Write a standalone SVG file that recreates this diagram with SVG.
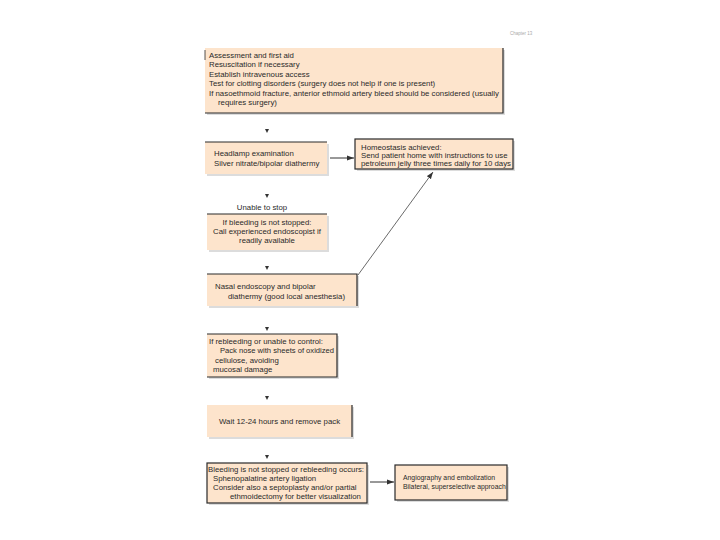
<svg xmlns="http://www.w3.org/2000/svg" width="720" height="540" viewBox="0 0 720 540">
<defs>
<style>
.bx{fill:#fde4cc}
.sh{fill:#dcdcdc}
.bd{stroke:#2a2a2a;stroke-width:1.2;fill:none}
text{font-family:"Liberation Sans",Arial,sans-serif;font-size:7.8px;fill:#2a2a2a}
.sm{font-size:6.85px}
.ah{fill:#333}
.ln{stroke:#333;stroke-width:1;fill:none}
.dl{stroke:#444;stroke-width:0.8;fill:none}
</style>
<marker id="arr" markerWidth="8" markerHeight="6" refX="7" refY="3" orient="auto" markerUnits="userSpaceOnUse">
<path d="M0,0.5 L7,3 L0,5.5 z" fill="#333"/>
</marker>
</defs>
<rect width="720" height="540" fill="#fff"/>
<text x="510" y="35" style="font-size:4.5px;fill:#aaa">Chapter 13</text>

<g id="n1">
<rect class="sh" x="207" y="50" width="298" height="65"/>
<rect class="bx" x="205" y="48" width="298" height="65"/>
<path class="bd" d="M503,48 V113 H205"/>
<path class="bd" d="M205,50 V60" style="stroke-width:0.8"/>
<text x="209" y="57.5">Assessment and first aid</text>
<text x="209" y="67">Resuscitation if necessary</text>
<text x="209" y="76.5">Establish intravenous access</text>
<text x="209" y="86">Test for clotting disorders (surgery does not help if one is present)</text>
<text x="209" y="95.5" textLength="290" lengthAdjust="spacingAndGlyphs">If nasoethmoid fracture, anterior ethmoid artery bleed should be considered (usually</text>
<text x="218" y="105">requires surgery)</text>
</g>

<g id="n2">
<rect class="sh" x="207" y="144" width="122" height="32"/>
<rect class="bx" x="205" y="142" width="122" height="32"/>
<path class="bd" d="M205,142 H327"/>
<text x="214" y="156">Headlamp examination</text>
<text x="214" y="165.5">Silver nitrate/bipolar diathermy</text>
</g>

<g id="n3">
<rect class="sh" x="357" y="141" width="158" height="30"/>
<rect class="bx" x="355" y="139" width="158" height="30"/>
<rect class="bd" x="355" y="139" width="158" height="30"/>
<text x="361" y="149.5">Homeostasis achieved:</text>
<text x="361" y="157.5">Send patient home with instructions to use</text>
<text x="361" y="166">petroleum jelly three times daily for 10 days</text>
</g>

<g id="n4">
<text x="262" y="210" text-anchor="middle">Unable to stop</text>
<rect class="sh" x="209" y="216" width="120" height="36"/>
<rect class="bx" x="207" y="214" width="120" height="36"/>
<path class="bd" d="M207,214 H327"/>
<text x="267" y="224.5" text-anchor="middle">If bleeding is not stopped:</text>
<text x="267" y="233.5" text-anchor="middle">Call experienced endoscopist if</text>
<text x="267" y="242.5" text-anchor="middle">readily available</text>
</g>

<g id="n5">
<rect class="sh" x="209" y="276" width="150" height="32"/>
<rect class="bx" x="207" y="274" width="150" height="32"/>
<path class="bd" d="M207,274 H357 V306"/>
<text x="215" y="288.5">Nasal endoscopy and bipolar</text>
<text x="228" y="298.5">diathermy (good local anesthesia)</text>
</g>

<g id="n6">
<rect class="sh" x="209" y="336" width="130" height="43"/>
<rect class="bx" x="207" y="334" width="130" height="43"/>
<path class="bd" d="M207,334 H337 V377 H207"/>
<text x="209" y="344">If rebleeding or unable to control:</text>
<text x="220" y="353.3" style="font-size:7.6px">Pack nose with sheets of oxidized</text>
<text x="215" y="362.6">cellulose, avoiding</text>
<text x="213" y="372">mucosal damage</text>
</g>

<g id="n7">
<rect class="sh" x="209" y="407" width="145" height="32"/>
<rect class="bx" x="207" y="405" width="145" height="32"/>
<path class="bd" d="M352,405 V437"/>
<text x="219" y="424">Wait 12-24 hours and remove pack</text>
</g>

<g id="n8">
<rect class="sh" x="209" y="465" width="160" height="40"/>
<rect class="bx" x="207" y="463" width="160" height="40"/>
<rect class="bd" x="207" y="463" width="160" height="40"/>
<text x="208" y="471.5">Bleeding is not stopped or rebleeding occurs:</text>
<text x="213" y="480.5">Sphenopalatine artery ligation</text>
<text x="213" y="489.5">Consider also a septoplasty and/or partial</text>
<text x="230" y="498.5">ethmoidectomy for better visualization</text>
</g>

<g id="n9">
<rect class="sh" x="397" y="467" width="112" height="35"/>
<rect class="bx" x="395" y="465" width="112" height="35"/>
<rect class="bd" x="395" y="465" width="112" height="35"/>
<text class="sm" x="403" y="480">Angiography and embolization</text>
<text class="sm" x="403" y="489">Bilateral, superselective approach</text>
</g>

<g id="connectors">
<path class="ah" d="M265,129 L269,129 L267,133 z"/>
<path class="ah" d="M265,194 L269,194 L267,198 z"/>
<path class="ah" d="M265,266 L269,266 L267,270 z"/>
<path class="ah" d="M265,327 L269,327 L267,331 z"/>
<path class="ah" d="M265,396 L269,396 L267,400 z"/>
<path class="ah" d="M265,455 L269,455 L267,459 z"/>
<line class="ln" x1="330" y1="158" x2="354" y2="158" marker-end="url(#arr)"/>
<line class="dl" x1="358" y1="275" x2="433" y2="172" marker-end="url(#arr)"/>
<line class="ln" x1="370" y1="482" x2="394" y2="482" marker-end="url(#arr)"/>
</g>
</svg>
